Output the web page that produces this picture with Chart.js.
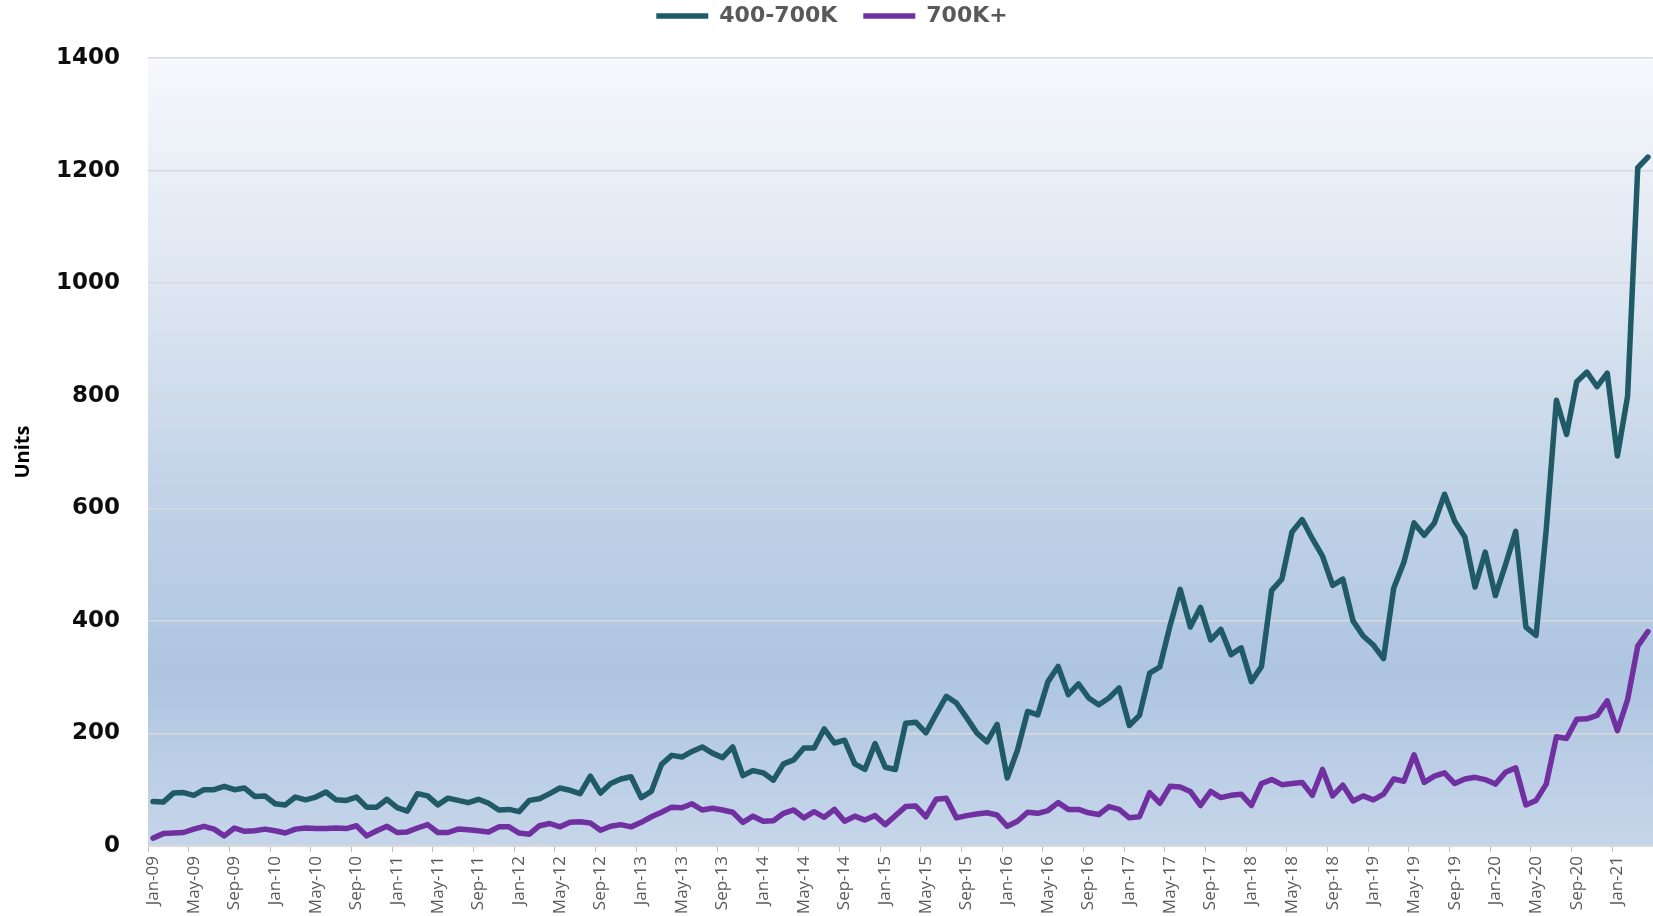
<!DOCTYPE html>
<html>
<head>
<meta charset="utf-8">
<script src="https://cdn.jsdelivr.net/npm/chart.js@4.4.1/dist/chart.umd.min.js"></script>
<style>
  html, body { margin: 0; padding: 0; background: #ffffff; }
  #wrap { width: 1653px; height: 916px; position: relative; }
</style>
</head>
<body>
<div id="wrap"><canvas id="c" width="1653" height="916"></canvas></div>
<script>
// ---- Data (monthly, Jan-09 .. Apr-21) ----
const monthNames = ['Jan','Feb','Mar','Apr','May','Jun','Jul','Aug','Sep','Oct','Nov','Dec'];
const yearLabels = ['09','10','11','12','13','14','15','16','17','18','19','20','21'];
const monthCount = 148;

const series400to700K = [
  79, 78, 94, 95, 90, 100, 100, 106, 100, 103, 88, 89,
  75, 73, 87, 82, 87, 96, 82, 81, 87, 69, 69, 83,
  68, 62, 93, 89, 73, 85, 81, 77, 83, 76, 64, 65,
  61, 81, 84, 93, 103, 99, 93, 124, 94, 111, 119, 123,
  86, 97, 145, 161, 158, 168, 176, 165, 157, 176, 125, 134,
  130, 117, 146, 153, 174, 174, 208, 183, 188, 146, 136, 182,
  140, 136, 218, 220, 201, 234, 266, 254, 228, 201, 185, 216,
  121, 170, 239, 233, 292, 319, 269, 288, 263, 251, 263, 281,
  214, 232, 307, 318, 391, 456, 389, 424, 366, 385, 340, 352,
  292, 319, 454, 474, 558, 580, 546, 515, 463, 474, 400, 373,
  357, 333, 458, 504, 574, 552, 574, 625, 577, 549, 460, 522,
  445, 500, 559, 389, 374, 562, 792, 731, 825, 842, 816, 840,
  693, 799, 1205, 1224
];

const series700Kplus = [
  14, 22, 23, 24, 30, 35, 30, 18, 32, 26, 27, 30,
  27, 23, 30, 32, 31, 31, 32, 31, 36, 18, 27, 35,
  24, 25, 32, 38, 24, 24, 30, 29, 27, 25, 34, 34,
  23, 21, 36, 40, 34, 42, 43, 41, 28, 35, 38, 34,
  42, 52, 60, 69, 68, 75, 64, 67, 64, 60, 42, 53,
  44, 45, 58, 64, 50, 61, 51, 65, 44, 53, 46, 54,
  38, 54, 70, 71, 52, 83, 85, 50, 54, 57, 59, 55,
  35, 44, 60, 58, 63, 77, 65, 65, 59, 56, 70, 65,
  50, 52, 95, 76, 106, 105, 97, 72, 97, 86, 90, 92,
  72, 111, 118, 109, 111, 113, 90, 136, 89, 108, 80, 89,
  82, 92, 119, 115, 162, 113, 124, 130, 111, 119, 122, 118,
  110, 131, 139, 73, 81, 110, 194, 191, 225, 226, 232, 258,
  205, 260, 355, 381
];

const yTickMin = 0;
const yTickMax = 1400;
const yTickStep = 200;
const labelEvery = 4;

// build category labels from the month/year arrays
const categories = [];
for (const y of yearLabels) for (const m of monthNames) categories.push(m + '-' + y);
categories.length = monthCount;

// ---- plot background gradient ----
const bgPlugin = {
  id: 'plotBg',
  beforeDraw(chart) {
    const { ctx, chartArea: a } = chart;
    if (!a) return;
    const g = ctx.createLinearGradient(0, a.top, 0, a.bottom);
    g.addColorStop(0.00, '#f6f8fc');
    g.addColorStop(0.30, '#dce5f1');
    g.addColorStop(0.55, '#c2d3e8');
    g.addColorStop(0.78, '#aec5e0');
    g.addColorStop(1.00, '#c6d6ea');
    ctx.save();
    ctx.fillStyle = g;
    ctx.fillRect(a.left, a.top, a.right - a.left, a.bottom - a.top);
    ctx.restore();
  }
};

new Chart(document.getElementById('c'), {
  type: 'line',
  data: {
    labels: categories,
    datasets: [
      {
        label: '400-700K',
        data: series400to700K,
        borderColor: '#1f5a66',
        backgroundColor: '#1f5a66',
        borderWidth: 5.5,
        pointRadius: 0,
        pointHoverRadius: 0,
        tension: 0,
        fill: false,
        borderJoinStyle: 'round',
        borderCapStyle: 'round'
      },
      {
        label: '700K+',
        data: series700Kplus,
        borderColor: '#7030a0',
        backgroundColor: '#7030a0',
        borderWidth: 5.5,
        pointRadius: 0,
        pointHoverRadius: 0,
        tension: 0,
        fill: false,
        borderJoinStyle: 'round',
        borderCapStyle: 'round'
      }
    ]
  },
  options: {
    responsive: false,
    devicePixelRatio: 1,
    animation: false,
    events: [],
    layout: { padding: { left: 11, right: 0, top: -21, bottom: 0 } },
    plugins: {
      legend: {
        position: 'top',
        align: 'center',
        weight: 3000,
        labels: {
          usePointStyle: true,
          pointStyle: 'line',
          pointStyleWidth: 52,
          padding: 26,
          color: '#595959',
          font: { family: 'DejaVu Sans', weight: 'bold', size: 22 }
        }
      },
      title: {
        display: true,
        text: '',
        padding: { top: 0, bottom: 0 },
        font: { size: 17.5, lineHeight: 1.2 }
      },
      tooltip: { enabled: false }
    },
    scales: {
      x: {
        type: 'category',
        offset: true,
        grid: {
          offset: true,
          drawOnChartArea: false,
          drawTicks: true,
          tickLength: 6,
          tickColor: (c) => (c.index !== undefined && c.index % labelEvery === 0) ? '#bfbfbf' : 'rgba(0,0,0,0)',
          lineWidth: 1
        },
        border: { display: true, color: '#d9d9d9', width: 1 },
        ticks: {
          autoSkip: false,
          maxRotation: 90,
          minRotation: 90,
          padding: 4,
          color: '#595959',
          font: { family: 'Open Sans', size: 17 },
          callback: (v, i) => (i % labelEvery === 0 ? categories[i] : '')
        },
        afterFit: (s) => { s.height = 70; s.paddingLeft = 0; s.paddingRight = 0; }
      },
      y: {
        min: yTickMin,
        max: yTickMax,
        grid: { color: '#d9d9d9', lineWidth: 1.5, drawTicks: false },
        border: { display: false },
        ticks: {
          stepSize: yTickStep,
          padding: 28,
          color: '#0d0d0d',
          font: { family: 'DejaVu Sans', weight: 'bold', size: 23 },
          callback: (v) => String(v)
        },
        title: {
          display: true,
          text: 'Units',
          color: '#000000',
          padding: { top: 0, bottom: 0 },
          font: { family: "'Liberation Sans Narrow', 'Open Sans'", weight: 'bold', size: 20 }
        },
        afterFit: (s) => { s.width = 137; }
      }
    }
  },
  plugins: [bgPlugin]
});
</script>
</body>
</html>
